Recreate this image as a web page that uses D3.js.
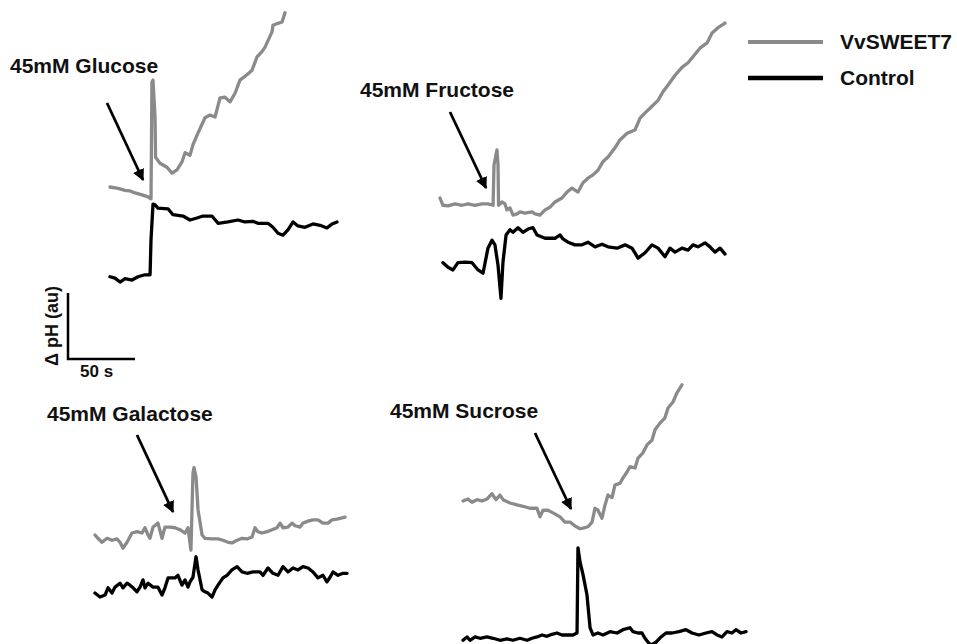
<!DOCTYPE html>
<html>
<head>
<meta charset="utf-8">
<script src="https://cdn.jsdelivr.net/npm/d3@7"></script>
<style>
  html, body { margin: 0; padding: 0; background: #fff; }
  svg { display: block; font-family: "Liberation Sans", Arial, sans-serif; }
</style>
</head>
<body>
<svg id="chart" width="957" height="644"></svg>
<script>
// Extracellular pH traces: [time (s), ΔpH (au)] relative to each recording's start.
const series = ["VvSWEET7", "Control"];
const sugars = ["45mM Glucose", "45mM Fructose", "45mM Galactose", "45mM Sucrose"];

const glucoseSweet7 = [[0,0],[6.0,-0.02],[11.2,-0.05],[14.9,-0.06],[18.7,-0.09],[23.9,-0.12],[28.4,-0.15],[30.6,-0.18],
  [31.3,1.59],[32.1,1.62],[33.6,1.06],[34.0,0.45],[37.3,0.36],[42.5,0.30],[46.3,0.21],[50.0,0.26],[53.7,0.38],
  [56.0,0.52],[59.7,0.48],[61.9,0.64],[65.7,0.82],[70.9,1.05],[74.6,1.09],[78.4,1.06],[82.1,1.35],[85.8,1.36],
  [89.6,1.29],[93.3,1.42],[97.0,1.62],[102.2,1.70],[106.0,1.77],[109.7,1.97],[113.4,2.05],[115.7,2.12],
  [120.9,2.35],[121.6,2.45],[125.4,2.48],[128.4,2.50],[130.6,2.64]];
const glucoseControl = [[0,-1.36],[3.7,-1.38],[7.5,-1.44],[11.2,-1.39],[16.4,-1.41],[20.9,-1.36],[26.1,-1.33],[29.9,-1.33],
  [30.6,-0.80],[32.1,-0.26],[33.6,-0.27],[35.8,-0.32],[43.3,-0.33],[47.0,-0.42],[54.5,-0.44],[59.7,-0.50],
  [64.9,-0.47],[69.4,-0.44],[76.1,-0.44],[80.6,-0.55],[88.1,-0.53],[95.5,-0.50],[100.7,-0.53],[106.7,-0.52],
  [110.4,-0.55],[117.9,-0.55],[121.6,-0.61],[125.4,-0.70],[129.1,-0.73],[132.8,-0.65],[136.6,-0.53],
  [140.3,-0.59],[145.5,-0.61],[151.5,-0.56],[156.7,-0.58],[161.9,-0.62],[165.7,-0.56],[169.4,-0.53]];

const fructoseSweet7 = [[0,0],[2.2,-0.11],[6.0,-0.12],[11.2,-0.09],[16.4,-0.11],[20.9,-0.09],[26.1,-0.11],[31.3,-0.09],
  [35.8,-0.09],[39.6,-0.11],[40.3,0.50],[42.5,0.73],[43.3,0.50],[43.7,-0.11],[46.3,-0.06],[48.5,-0.09],
  [50.0,-0.18],[52.2,-0.15],[54.5,-0.26],[57.5,-0.24],[59.7,-0.21],[63.4,-0.23],[68.7,-0.21],[70.9,-0.24],
  [74.6,-0.26],[78.4,-0.18],[82.1,-0.14],[85.8,-0.06],[91.0,0],[94.8,0.09],[98.5,0.15],[103.0,0.09],
  [106.7,0.23],[110.4,0.30],[114.2,0.35],[117.9,0.42],[121.6,0.55],[125.4,0.62],[130.6,0.76],[134.3,0.88],
  [139.6,0.98],[145.5,1.03],[149.3,1.21],[153.0,1.29],[156.7,1.36],[162.7,1.48],[166.4,1.61],[170.1,1.71],
  [175.4,1.86],[180.6,1.98],[185.1,2.05],[188.8,2.14],[194.0,2.27],[199.3,2.35],[203.0,2.50],[207.5,2.58],[212.7,2.65]];
const fructoseControl = [[2.2,-0.98],[6.0,-1.05],[9.7,-1.09],[13.4,-0.98],[18.7,-0.97],[23.9,-0.98],[28.4,-1.09],
  [32.1,-1.14],[35.8,-0.76],[38.8,-0.64],[41.0,-0.71],[43.3,-1.02],[45.5,-1.52],[47.0,-0.97],[49.3,-0.56],
  [52.2,-0.48],[54.5,-0.52],[58.2,-0.45],[61.9,-0.52],[65.7,-0.47],[69.4,-0.45],[72.4,-0.56],[78.4,-0.61],
  [85.8,-0.61],[89.6,-0.56],[91.8,-0.62],[95.5,-0.67],[100.7,-0.71],[106.0,-0.71],[110.4,-0.67],[115.7,-0.74],
  [120.9,-0.70],[125.4,-0.74],[132.1,-0.76],[138.1,-0.71],[143.3,-0.76],[147.8,-0.91],[153.0,-0.83],
  [158.2,-0.71],[162.7,-0.76],[167.9,-0.89],[171.6,-0.76],[175.4,-0.82],[180.6,-0.76],[185.1,-0.79],
  [188.8,-0.71],[192.5,-0.74],[197.8,-0.68],[201.5,-0.74],[205.2,-0.82],[209.0,-0.76],[212.7,-0.85]];

const galactoseSweet7 = [[0,0],[2.2,-0.05],[5.2,-0.11],[9.0,-0.05],[12.7,-0.08],[16.4,-0.06],[18.7,-0.11],[20.9,-0.20],
  [23.9,-0.11],[27.6,0.03],[31.3,0.05],[35.1,0.03],[37.3,0.11],[39.6,0],[41.0,-0.05],[43.3,0.12],[47.0,0.18],
  [50.0,-0.05],[52.2,0.12],[56.0,0.12],[59.7,0.11],[63.4,0.08],[67.2,0.03],[69.4,0.11],[71.6,-0.23],[73.1,0.94],
  [73.9,1.02],[75.4,0.88],[76.9,0.38],[79.9,0],[82.1,-0.05],[87.3,-0.06],[91.8,-0.06],[95.5,-0.08],[99.3,-0.11],
  [102.2,-0.12],[106.0,-0.08],[109.7,-0.05],[113.4,-0.06],[117.2,-0.03],[119.4,0.11],[121.6,0.05],[124.6,0.03],
  [128.4,0.05],[132.1,0.08],[135.8,0.11],[138.1,0.18],[140.3,0.11],[144.0,0.12],[147.0,0.18],[149.3,0.14],
  [153.0,0.12],[155.2,0.18],[159.0,0.21],[162.7,0.23],[166.4,0.23],[170.1,0.18],[173.9,0.18],[176.9,0.23],
  [180.6,0.24],[184.3,0.26],[186.6,0.27]];
const galactoseControl = [[0,-0.88],[3.7,-0.94],[7.5,-0.91],[9.7,-0.80],[12.7,-0.88],[14.9,-0.79],[18.7,-0.73],
  [20.9,-0.80],[23.9,-0.73],[26.1,-0.76],[28.4,-0.80],[31.3,-0.86],[33.6,-0.79],[35.8,-0.68],[37.3,-0.80],
  [39.6,-0.73],[43.3,-0.79],[47.0,-0.79],[50.0,-0.91],[52.2,-0.80],[54.5,-0.65],[59.7,-0.65],[61.9,-0.61],
  [64.9,-0.76],[67.2,-0.68],[69.4,-0.79],[70.9,-0.71],[73.1,-0.64],[75.4,-0.33],[76.9,-0.53],[79.9,-0.83],
  [82.1,-0.86],[84.3,-0.88],[87.3,-0.94],[89.6,-0.83],[91.8,-0.76],[95.5,-0.65],[98.5,-0.61],[102.2,-0.53],
  [106.0,-0.48],[109.7,-0.56],[113.4,-0.58],[117.9,-0.56],[123.1,-0.56],[125.4,-0.61],[129.1,-0.50],
  [132.8,-0.58],[136.6,-0.61],[140.3,-0.48],[144.0,-0.56],[147.8,-0.50],[151.5,-0.53],[155.2,-0.48],
  [159.0,-0.50],[162.7,-0.56],[166.4,-0.65],[170.1,-0.61],[173.1,-0.71],[175.4,-0.64],[177.6,-0.56],
  [181.3,-0.61],[185.1,-0.58],[188.1,-0.58]];

const sucroseSweet7 = [[0,0],[3.7,0.03],[6.7,-0.02],[10.4,0.02],[14.2,0],[17.9,0.03],[21.6,0.11],[24.6,0.02],
  [27.6,0.09],[29.9,0.02],[35.1,-0.03],[40.3,-0.06],[44.8,-0.08],[50.0,-0.11],[55.2,-0.11],[57.5,-0.24],
  [59.7,-0.14],[63.4,-0.14],[67.2,-0.18],[72.4,-0.24],[76.1,-0.32],[79.9,-0.32],[83.6,-0.38],[87.3,-0.42],
  [89.6,-0.41],[93.3,-0.39],[96.3,-0.32],[98.5,-0.11],[100.7,-0.14],[103.7,-0.26],[106.0,-0.06],[108.2,0.09],
  [111.2,0.05],[113.4,0.24],[117.2,0.27],[119.4,0.35],[122.4,0.44],[124.6,0.52],[128.4,0.50],[130.6,0.65],
  [134.3,0.73],[137.3,0.85],[141.0,0.92],[143.3,1.08],[147.0,1.18],[150.7,1.26],[153.0,1.41],[156.7,1.50],
  [159.7,1.64],[163.4,1.76]];
const sucroseControl = [[0,-2.11],[3.0,-2.06],[5.2,-2.11],[9.0,-2.06],[12.7,-2.08],[17.9,-2.06],[22.4,-2.08],
  [27.6,-2.11],[32.8,-2.09],[37.3,-2.11],[42.5,-2.08],[47.8,-2.11],[51.5,-2.08],[55.2,-2.06],[59.0,-2.03],
  [62.7,-2.05],[66.4,-2.02],[70.1,-2.00],[73.9,-2.03],[77.6,-2.03],[82.1,-2.03],[85.1,-2.00],[85.8,-0.71],
  [87.3,-0.92],[89.6,-1.12],[92.5,-1.42],[94.8,-1.92],[97.0,-2.03],[100.7,-2.00],[104.5,-2.03],[109.7,-1.98],
  [114.9,-2.00],[119.4,-1.95],[124.6,-1.92],[126.9,-1.98],[130.6,-2.00],[133.6,-2.00],[135.8,-2.08],
  [138.1,-2.14],[140.3,-2.18],[144.0,-2.14],[147.8,-2.06],[151.5,-2.00],[156.0,-2.00],[161.2,-1.98],
  [166.4,-1.95],[170.9,-2.00],[176.1,-2.03],[181.3,-2.00],[185.8,-1.98],[189.6,-2.03],[193.3,-2.06],
  [197.0,-1.98],[200.7,-2.00],[203.7,-1.95],[207.5,-2.00],[211.2,-1.98]];

// Scale bar values
const scaleBarTime = 50;   // s
const scaleBarPH = 1;      // au

// ---- drawing ----
const svg = d3.select("#chart");
const GRAY = "#8a8a8a";
const INK = "#111";
const PX_PER_S = 67 / 50;
const PX_PER_AU = 66;

// placement of each recording on the page (origin = first sample)
const panels = [
  { label: sugars[0], sweet7: glucoseSweet7,   control: glucoseControl,   ox: 110, oy: 187,
    text: [10, 73],  arrow: [[107, 103], [143, 180]] },
  { label: sugars[1], sweet7: fructoseSweet7,  control: fructoseControl,  ox: 440, oy: 198,
    text: [360, 97], arrow: [[450, 112], [486, 188]] },
  { label: sugars[2], sweet7: galactoseSweet7, control: galactoseControl, ox: 95,  oy: 535,
    text: [47, 421], arrow: [[137, 435], [173, 512]] },
  { label: sugars[3], sweet7: sucroseSweet7,   control: sucroseControl,   ox: 463, oy: 501,
    text: [390, 418], arrow: [[535, 433], [571, 509]] }
];

svg.append("defs").append("marker")
  .attr("id", "arrowhead")
  .attr("viewBox", "0 0 10 10")
  .attr("refX", 9).attr("refY", 5)
  .attr("markerWidth", 4.2).attr("markerHeight", 4.2)
  .attr("markerUnits", "strokeWidth")
  .attr("orient", "auto")
  .append("path").attr("d", "M0,0 L10,5 L0,10 Z").attr("fill", "#000");

panels.forEach(p => {
  const x = d3.scaleLinear().domain([0, 50]).range([p.ox, p.ox + 50 * PX_PER_S]);
  const y = d3.scaleLinear().domain([0, 1]).range([p.oy, p.oy - PX_PER_AU]);
  const line = d3.line().x(d => x(d[0])).y(d => y(d[1])).curve(d3.curveLinear);
  const g = svg.append("g");

  g.append("path").datum(p.sweet7).attr("d", line)
    .attr("fill", "none").attr("stroke", GRAY).attr("stroke-width", 3.3)
    .attr("stroke-linejoin", "round").attr("stroke-linecap", "round");
  g.append("path").datum(p.control).attr("d", line)
    .attr("fill", "none").attr("stroke", "#000").attr("stroke-width", 3.3)
    .attr("stroke-linejoin", "round").attr("stroke-linecap", "round");

  g.append("text").attr("x", p.text[0]).attr("y", p.text[1])
    .attr("font-size", 21).attr("font-weight", "bold").attr("fill", INK)
    .text(p.label);

  g.append("line")
    .attr("x1", p.arrow[0][0]).attr("y1", p.arrow[0][1])
    .attr("x2", p.arrow[1][0]).attr("y2", p.arrow[1][1])
    .attr("stroke", "#000").attr("stroke-width", 2.8)
    .attr("marker-end", "url(#arrowhead)");
});

// Scale bar
const sbx = d3.scaleLinear().domain([0, scaleBarTime]).range([68, 68 + scaleBarTime * PX_PER_S]);
const sby = d3.scaleLinear().domain([0, scaleBarPH]).range([359, 359 - scaleBarPH * PX_PER_AU]);
svg.append("path")
  .attr("d", `M${sbx(0)},${sby(scaleBarPH)} L${sbx(0)},${sby(0)} L${sbx(scaleBarTime)},${sby(0)}`)
  .attr("fill", "none").attr("stroke", "#000").attr("stroke-width", 2.5);
svg.append("text")
  .attr("transform", `translate(58,${(sby(0) + sby(scaleBarPH)) / 2}) rotate(-90)`)
  .attr("text-anchor", "middle")
  .attr("font-size", 18).attr("font-weight", "bold").attr("fill", INK)
  .text("Δ pH (au)");
svg.append("text")
  .attr("x", 80).attr("y", 377)
  .attr("font-size", 17).attr("font-weight", "bold").attr("fill", INK)
  .text(`${scaleBarTime} s`);

// Legend
const legend = svg.append("g");
series.forEach((s, i) => {
  const ly = [42, 78][i];
  legend.append("line").attr("x1", 748).attr("x2", 823).attr("y1", ly).attr("y2", ly)
    .attr("stroke", i === 0 ? GRAY : "#000").attr("stroke-width", i === 0 ? 4 : 4.5);
  legend.append("text").attr("x", 840).attr("y", ly + 7)
    .attr("font-size", 21).attr("font-weight", "bold").attr("fill", INK)
    .text(s);
});
</script>
</body>
</html>
